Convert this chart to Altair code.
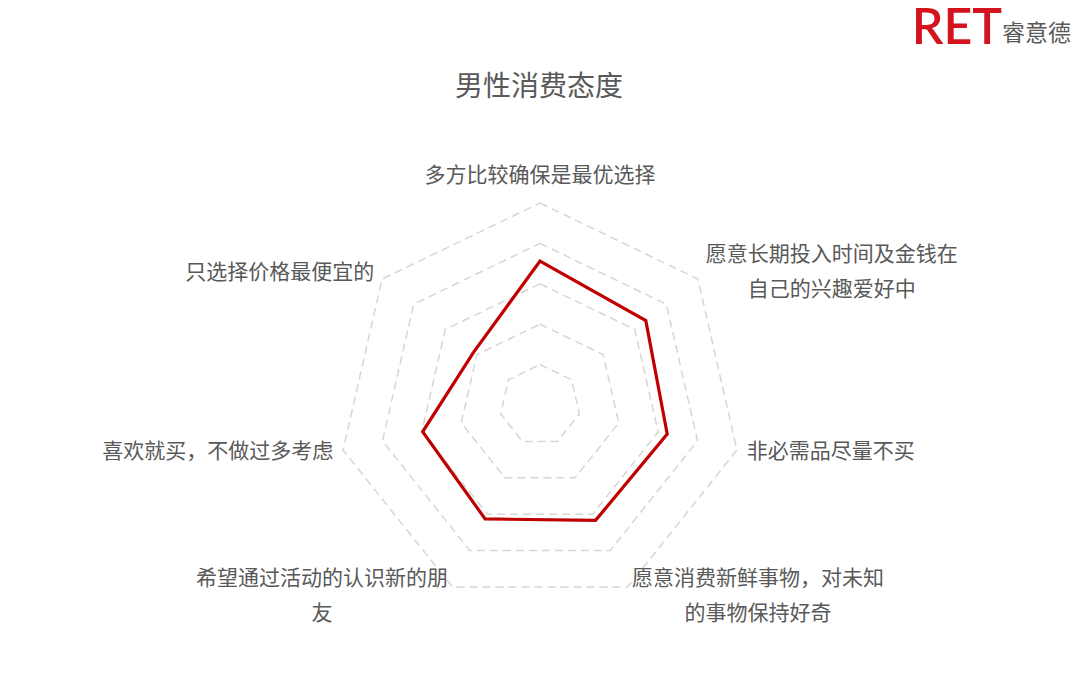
import altair as alt
import pandas as pd

# ---- data ----
categories = [
    "多方比较确保是最优选择",
    "愿意长期投入时间及金钱在\n自己的兴趣爱好中",
    "非必需品尽量不买",
    "愿意消费新鲜事物，对未知\n的事物保持好奇",
    "希望通过活动的认识新的朋\n友",
    "喜欢就买，不做过多考虑",
    "只选择价格最便宜的",
]
values = [3.56, 3.35, 3.23, 3.17, 3.13, 2.98, 2.10]
ring_levels = [1, 2, 3, 4, 5]
title_text = "男性消费态度"
logo_mark = "RET"
logo_name = "睿意德"

# ---- layout ----
W, H = 1064, 670
CX, CY = 532, 397          # radar centre inside the canvas (px)
K = 40.4                   # px per value unit
R_MAX = max(ring_levels)
LABEL_GAP = 10
FONT = 21
LINE_H = 35
N = len(categories)
CJK = "Noto Sans CJK SC"

series = pd.DataFrame({"idx": list(range(N)), "value": values})
grid = pd.DataFrame([{"idx": i, "level": lv} for lv in ring_levels for i in range(N)])
labels = pd.DataFrame({
    "idx": list(range(N)),
    "label": categories,
    "maxlen": [max(len(s) for s in c.split("\n")) for c in categories],
    "nlines": [len(c.split("\n")) for c in categories],
})

xs = alt.Scale(domain=[-CX / K, (W - CX) / K], range=[0, W], nice=False, zero=False)
ys = alt.Scale(domain=[-(H - CY) / K, CY / K], range=[H, 0], nice=False, zero=False)
X = lambda f: alt.X(f, type="quantitative", scale=xs, axis=None)
Y = lambda f: alt.Y(f, type="quantitative", scale=ys, axis=None)
ang = f"datum.idx * 2 * PI / {N}"

grid_layer = alt.Chart(grid).transform_calculate(
    a=ang
).transform_calculate(
    gx="datum.level * sin(datum.a)", gy="datum.level * cos(datum.a)"
).mark_line(
    interpolate="linear-closed", color="#d6d6d6", strokeWidth=1.5, strokeDash=[8, 5]
).encode(
    x=X("gx"), y=Y("gy"), detail="level:N", order="idx:Q"
)

series_layer = alt.Chart(series).transform_calculate(
    a=ang
).transform_calculate(
    sx="datum.value * sin(datum.a)", sy="datum.value * cos(datum.a)"
).mark_line(
    interpolate="linear-closed", color="#C00000", strokeWidth=3.2, strokeJoin="miter"
).encode(
    x=X("sx"), y=Y("sy"), order="idx:Q"
)

r_lab = R_MAX + LABEL_GAP / K
label_layer = alt.Chart(labels).transform_calculate(
    a=ang
).transform_calculate(
    s="sin(datum.a)", c="cos(datum.a)"
).transform_calculate(
    side="abs(datum.s) < 0.01 ? 0 : (datum.s > 0 ? 1 : -1)"
).transform_calculate(
    lx=f"{r_lab} * datum.s + datum.side * datum.maxlen * {FONT} / {K} / 2",
    ly=(f"{r_lab} * datum.c"
        f" + (datum.side == 0 ? (datum.c > 0 ? 1 : -1) * datum.nlines * {LINE_H} / 2 / {K} : 0)"
        f" + (datum.nlines - 1) * {LINE_H} / 2 / {K}"),
).mark_text(
    font=CJK, fontSize=FONT, color="#595959", align="center", baseline="middle",
    lineBreak="\n", lineHeight=LINE_H
).encode(
    x=X("lx"), y=Y("ly"), text="label:N"
)

title_layer = alt.Chart(pd.DataFrame({"t": [title_text]})).mark_text(
    font=CJK, fontSize=28, color="#595959", align="center", baseline="middle"
).encode(x=alt.value(CX - 1), y=alt.value(80), text="t:N")

logo_layer = alt.Chart(pd.DataFrame({"t": [logo_mark]})).mark_text(
    font="Lato", fontWeight=600, fontSize=50, color="#D3141E",
    align="right", baseline="alphabetic"
).encode(x=alt.value(994), y=alt.value(36), text="t:N")

logo_name_layer = alt.Chart(pd.DataFrame({"t": [logo_name]})).mark_text(
    font=CJK, fontSize=23, color="#595959", align="right", baseline="alphabetic"
).encode(x=alt.value(1063), y=alt.value(33), text="t:N")

chart = alt.layer(
    grid_layer, series_layer, label_layer, title_layer, logo_layer, logo_name_layer
).properties(
    width=W, height=H, padding=0, autosize=alt.AutoSizeParams(type="none"),
    background="white"
).configure_view(stroke=None)

chart.save("out.html", embed_options={"renderer": "svg", "actions": False})
